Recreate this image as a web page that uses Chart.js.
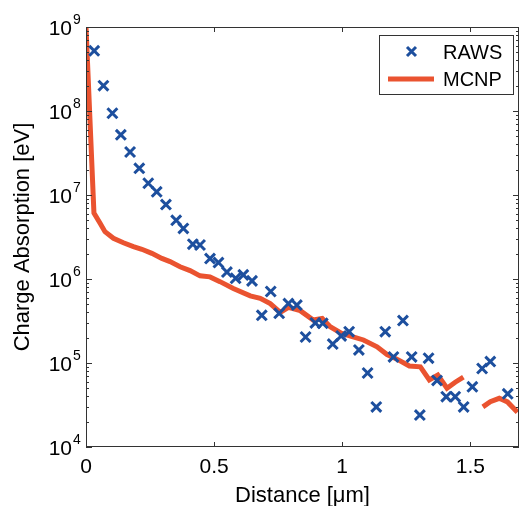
<!DOCTYPE html>
<html>
<head>
<meta charset="utf-8">
<script src="https://cdn.jsdelivr.net/npm/chart.js@4/dist/chart.umd.min.js"></script>
<style>
  html, body { margin: 0; padding: 0; background: #fff; }
  #wrap { width: 520px; height: 506px; }
</style>
</head>
<body>
<div id="wrap"><canvas id="chart" width="520" height="506"></canvas></div>
<script>
// data (distance in um, charge in eV)
const rawsX = [0.032, 0.068, 0.103, 0.136, 0.172, 0.208, 0.243, 0.276, 0.312, 0.352,
  0.380, 0.417, 0.445, 0.484, 0.517, 0.550, 0.584, 0.614, 0.648, 0.686,
  0.721, 0.754, 0.790, 0.823, 0.857, 0.895, 0.924, 0.963, 0.996, 1.027,
  1.065, 1.099, 1.133, 1.168, 1.200, 1.237, 1.271, 1.303, 1.337, 1.370,
  1.406, 1.441, 1.474, 1.508, 1.546, 1.578, 1.646];
const rawsY = [5.2e8, 2.0e8, 9.4e7, 5.2e7, 3.25e7, 2.08e7, 1.38e7, 1.09e7, 7.7e6, 5.0e6,
  4.0e6, 2.6e6, 2.54e6, 1.75e6, 1.57e6, 1.21e6, 1.02e6, 1.12e6, 9.5e5, 3.7e5,
  7.1e5, 3.9e5, 5.1e5, 4.9e5, 2.04e5, 3.0e5, 2.97e5, 1.68e5, 2.1e5, 2.36e5,
  1.43e5, 7.6e4, 3.0e4, 2.36e5, 1.18e5, 3.2e5, 1.18e5, 2.4e4, 1.14e5, 6.2e4,
  3.97e4, 3.97e4, 3.0e4, 5.2e4, 8.6e4, 1.04e5, 4.3e4];

const mcnpX = [0, 0.031, 0.055, 0.074, 0.107, 0.146, 0.185, 0.218, 0.257, 0.296,
  0.328, 0.367, 0.406, 0.445, 0.484, 0.523, 0.575, 0.641, 0.680, 0.719,
  0.758, 0.790, 0.836, 0.887, 0.922, 0.953, 0.996, 1.039, 1.083, 1.136,
  1.175, 1.219, 1.262, 1.305, 1.340, 1.373, 1.409, 1.441, 1.473, 1.510,
  1.549, 1.578, 1.613, 1.645, 1.684];
const mcnpY = [1e9, 6.1e6, 4.6e6, 3.66e6, 3.05e6, 2.7e6, 2.43e6, 2.26e6, 2.02e6, 1.76e6,
  1.61e6, 1.4e6, 1.26e6, 1.09e6, 1.06e6, 9.3e5, 7.7e5, 6.3e5, 5.9e5, 5.1e5,
  4.0e5, 4.6e5, 4.2e5, 3.25e5, 3.4e5, 2.7e5, 2.26e5, 2.06e5, 1.88e5, 1.56e5,
  1.26e5, 1.09e5, 9.2e4, 9.0e4, 6.3e4, 7.2e4, 5.0e4, 5.9e4, 6.8e4, null,
  3.0e4, 3.46e4, 3.8e4, 3.44e4, 2.6e4];

const xTicks = [0, 0.5, 1, 1.5];
const xTickLabels = ['0', '0.5', '1', '1.5'];
const yExponents = [4, 5, 6, 7, 8, 9];

const BLUE = '#1d4f9e';
const RED = '#ea5330';
const AXIS = '#333';
const FONT = '"Liberation Sans", Arial, sans-serif';

// MATLAB style box, ticks, labels and legend
const axesPlugin = {
  id: 'axesPlugin',
  afterDatasetsDraw(chart) {
    const ctx = chart.ctx;
    const a = chart.chartArea;
    const xs = chart.scales.x;
    const ys = chart.scales.y;
    ctx.save();
    ctx.strokeStyle = AXIS;
    ctx.lineWidth = 1;
    ctx.strokeRect(a.left + 0.5, a.top + 0.5, a.right - a.left - 1, a.bottom - a.top - 1);

    ctx.beginPath();
    xTicks.forEach(v => {
      const px = Math.round(xs.getPixelForValue(v)) + 0.5;
      ctx.moveTo(px, a.bottom); ctx.lineTo(px, a.bottom - 5);
      ctx.moveTo(px, a.top); ctx.lineTo(px, a.top + 5);
    });
    yExponents.forEach(e => {
      const py = Math.round(ys.getPixelForValue(Math.pow(10, e))) + 0.5;
      ctx.moveTo(a.left, py); ctx.lineTo(a.left + 6, py);
      ctx.moveTo(a.right, py); ctx.lineTo(a.right - 6, py);
      if (e < 9) {
        for (let m = 2; m <= 9; m++) {
          const pm = Math.round(ys.getPixelForValue(m * Math.pow(10, e))) + 0.5;
          ctx.moveTo(a.left, pm); ctx.lineTo(a.left + 3, pm);
          ctx.moveTo(a.right, pm); ctx.lineTo(a.right - 3, pm);
        }
      }
    });
    ctx.stroke();

    ctx.fillStyle = '#000';
    ctx.font = '21px ' + FONT;
    ctx.textAlign = 'center';
    ctx.textBaseline = 'alphabetic';
    xTicks.forEach((v, i) => {
      ctx.fillText(xTickLabels[i], xs.getPixelForValue(v), 473);
    });

    yExponents.forEach(e => {
      const py = ys.getPixelForValue(Math.pow(10, e));
      ctx.font = '21px ' + FONT;
      ctx.textAlign = 'right';
      ctx.fillText('10', 72, py + 8);
      ctx.font = '14px ' + FONT;
      ctx.textAlign = 'left';
      ctx.fillText(String(e), 73, py - 3);
    });

    ctx.font = '22px ' + FONT;
    ctx.textAlign = 'center';
    ctx.fillText('Distance [\u03bcm]', (a.left + a.right) / 2, 502);
    ctx.save();
    ctx.translate(29, (a.top + a.bottom) / 2);
    ctx.rotate(-Math.PI / 2);
    ctx.fillText('Charge Absorption [eV]', 0, 0);
    ctx.restore();

    // legend
    ctx.fillStyle = '#fff';
    ctx.fillRect(379, 35, 134, 59);
    ctx.strokeStyle = AXIS;
    ctx.strokeRect(379.5, 35.5, 134, 59);
    ctx.strokeStyle = BLUE;
    ctx.lineWidth = 3;
    ctx.beginPath();
    ctx.moveTo(407, 47); ctx.lineTo(416, 56);
    ctx.moveTo(416, 47); ctx.lineTo(407, 56);
    ctx.stroke();
    ctx.strokeStyle = RED;
    ctx.lineWidth = 5;
    ctx.beginPath();
    ctx.moveTo(388, 79); ctx.lineTo(434, 79);
    ctx.stroke();
    ctx.fillStyle = '#000';
    ctx.font = '20px ' + FONT;
    ctx.textAlign = 'left';
    ctx.fillText('RAWS', 443, 59);
    ctx.fillText('MCNP', 443, 86);
    ctx.restore();
  }
};

new Chart(document.getElementById('chart'), {
  type: 'scatter',
  data: {
    datasets: [
      {
        label: 'RAWS',
        type: 'scatter',
        data: rawsX.map((x, i) => ({ x: x, y: rawsY[i] })),
        pointStyle: 'crossRot',
        pointRadius: 7,
        borderColor: BLUE,
        borderWidth: 3,
        order: 1
      },
      {
        label: 'MCNP',
        type: 'line',
        data: mcnpX.map((x, i) => ({ x: x, y: mcnpY[i] })),
        borderColor: RED,
        borderWidth: 5,
        pointRadius: 0,
        fill: false,
        tension: 0,
        spanGaps: false,
        order: 2
      }
    ]
  },
  options: {
    responsive: false,
    animation: false,
    layout: { autoPadding: false, padding: { left: 0, top: 27, right: 1, bottom: 0 } },
    plugins: { legend: { display: false }, tooltip: { enabled: false } },
    scales: {
      x: {
        type: 'linear', min: 0, max: 1.69,
        grid: { display: false }, border: { display: false },
        ticks: { display: false },
        afterFit: s => { s.height = 59; }
      },
      y: {
        type: 'logarithmic', min: 1e4, max: 1e9,
        grid: { display: false }, border: { display: false },
        ticks: { display: false },
        afterFit: s => { s.width = 86; }
      }
    }
  },
  plugins: [axesPlugin]
});
</script>
</body>
</html>
